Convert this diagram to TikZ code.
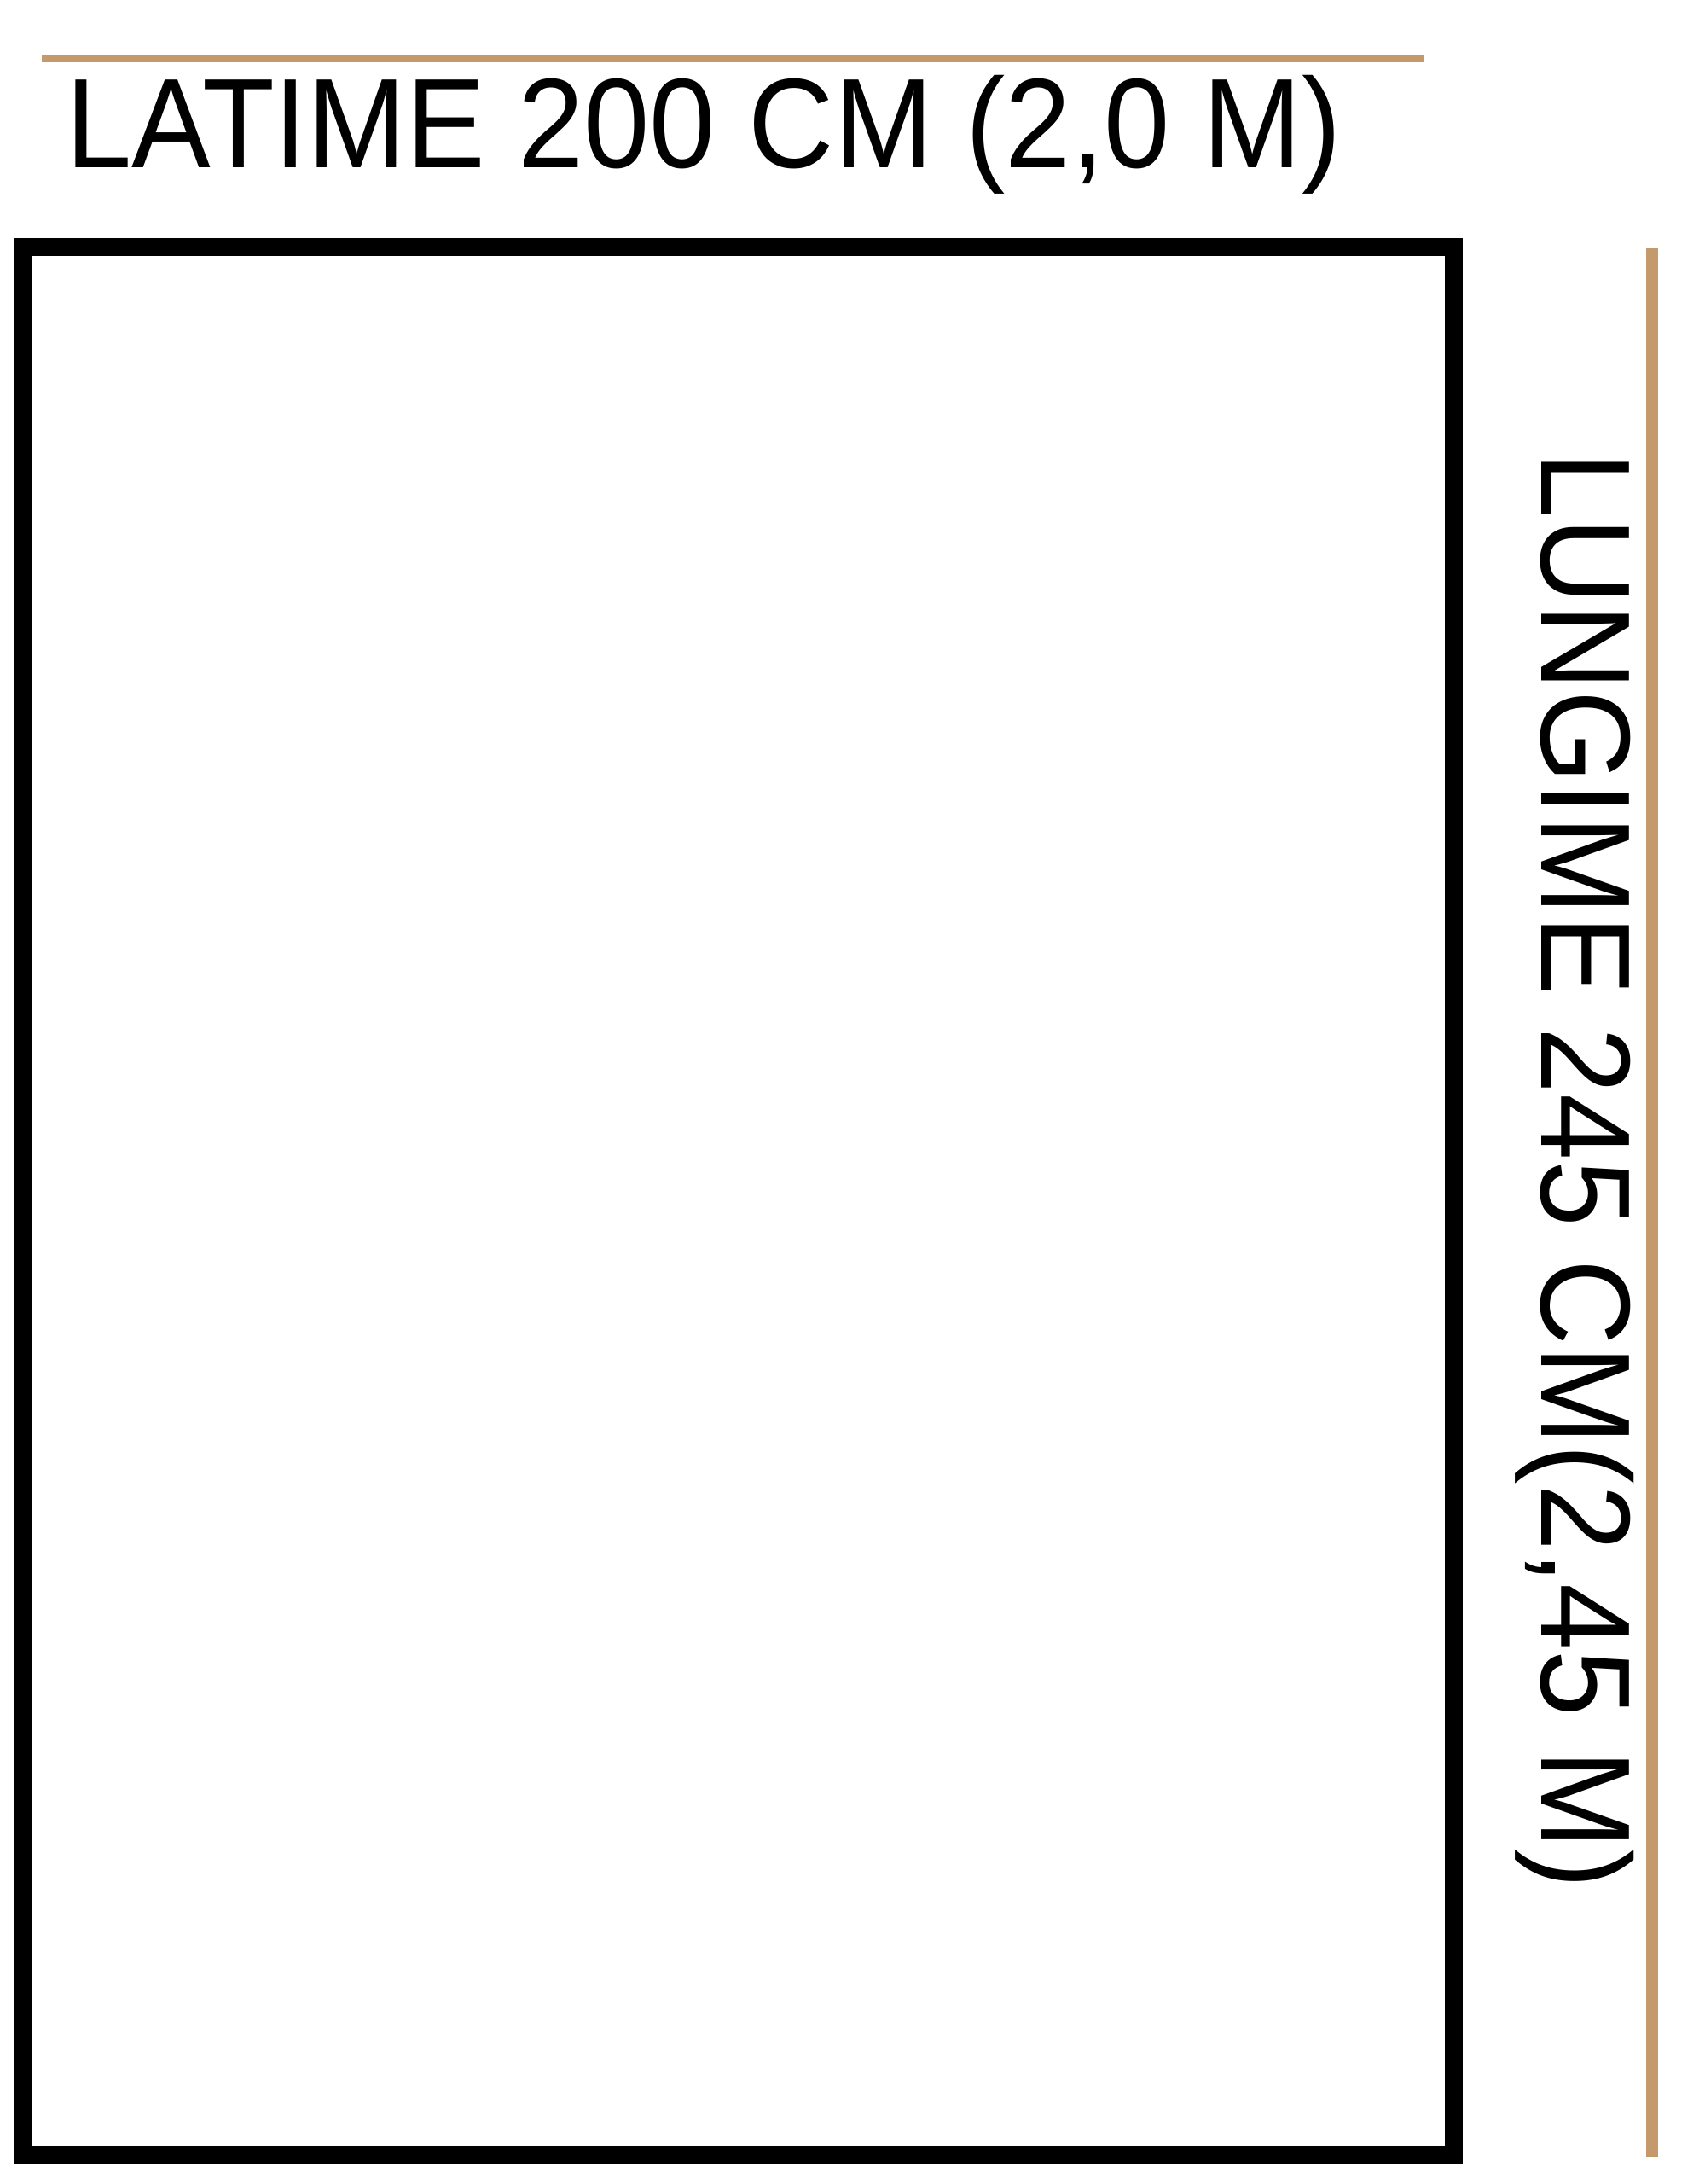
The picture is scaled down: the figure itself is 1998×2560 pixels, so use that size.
\documentclass[tikz,border=0pt]{standalone}
\usepackage{fontspec}
\setmainfont{Liberation Sans}
\definecolor{gold}{RGB}{196,154,108}
\begin{document}
\begin{tikzpicture}[x=0.5pt,y=-0.5pt,
  goldline/.style={draw=gold,line width=#1},
  frame/.style={draw=black,line width=10.5pt},
  dimtext/.style={inner sep=0pt,font=\fontsize{74.7}{80}\selectfont}]
\useasboundingbox (0,0) rectangle (1998,2560);
\fill[white] (0,0) rectangle (1998,2560);
% top dimension line
\coordinate (t1) at (49,68);
\coordinate (t2) at (1670,68);
\draw[goldline=4.5pt] (t1) -- (t2);
% right dimension line
\coordinate (r1) at (1937,291);
\coordinate (r2) at (1937,2528);
\draw[goldline=7pt] (r1) -- (r2);
% frame
\node[frame,minimum width=838.5pt,minimum height=1118.75pt,inner sep=0pt] (box) at (866,1408) {};
% labels
\node[dimtext,anchor=base] (w) at (825,196) {\scalebox{0.93}[1]{LATIME 200 CM (2,0 M)}};
\node[dimtext,anchor=base,rotate=-90] (l) at (1807,1372) {\scalebox{0.935}[1]{LUNGIME 245 CM(2,45 M)}};
\end{tikzpicture}
\end{document}
